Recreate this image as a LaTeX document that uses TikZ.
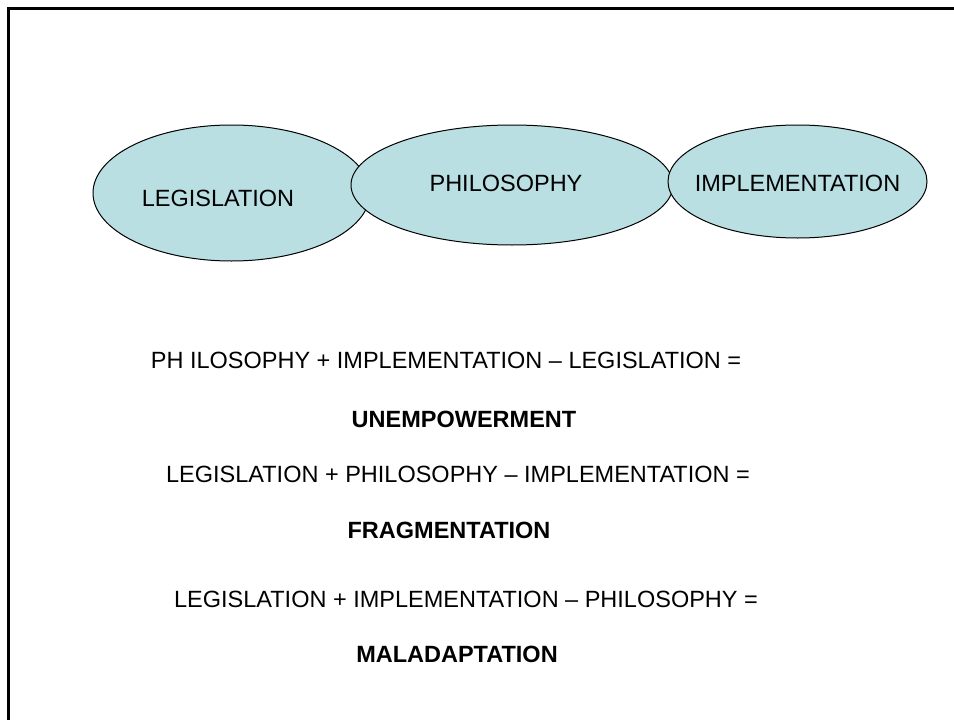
\documentclass[tikz,border=0pt]{standalone}
\usepackage{fontspec}
\setmainfont{Liberation Sans}
\usetikzlibrary{shapes.geometric}
\definecolor{ovalfill}{HTML}{B9DFE3}
\tikzset{
  oval/.style={ellipse, draw=black, line width=1pt, fill=ovalfill, inner sep=0pt},
  ovaltext/.style={anchor=base, inner sep=0pt, font=\fontsize{23.5}{28}\selectfont},
  eqtext/.style={anchor=base, inner sep=0pt, font=\fontsize{23.5}{28}\selectfont},
  restext/.style={anchor=base, inner sep=0pt, font=\fontsize{23.5}{28}\selectfont\bfseries}
}
\begin{document}
\begin{tikzpicture}[x=1pt,y=-1pt]
\useasboundingbox (0,0) rectangle (954,720);
\fill[white] (0,0) rectangle (954,720);
\begin{scope}
\clip (0,0) rectangle (954,720);
\draw[line width=3pt] (965,8) -- (8,8) -- (8,730);
\end{scope}
\node[oval, minimum width=277pt, minimum height=136pt] (leg) at (231.5,193) {};
\node[oval, minimum width=322pt, minimum height=120pt] (phi) at (512,185) {};
\node[oval, minimum width=259pt, minimum height=113pt] (imp) at (797.5,181.5) {};
\node[ovaltext] (legt) at (218,206) {LEGISLATION};
\node[ovaltext] (phit) at (506,191) {PHILOSOPHY};
\node[ovaltext] (impt) at (797.5,191) {IMPLEMENTATION};
\node[eqtext] (eq1) at (446,368) {PH ILOSOPHY + IMPLEMENTATION -- LEGISLATION =};
\node[restext] (r1) at (464,427) {UNEMPOWERMENT};
\node[eqtext] (eq2) at (458,482) {LEGISLATION + PHILOSOPHY -- IMPLEMENTATION =};
\node[restext] (r2) at (449,538) {FRAGMENTATION};
\node[eqtext] (eq3) at (466,607) {LEGISLATION + IMPLEMENTATION -- PHILOSOPHY =};
\node[restext] (r3) at (457,662) {MALADAPTATION};
\end{tikzpicture}
\end{document}
